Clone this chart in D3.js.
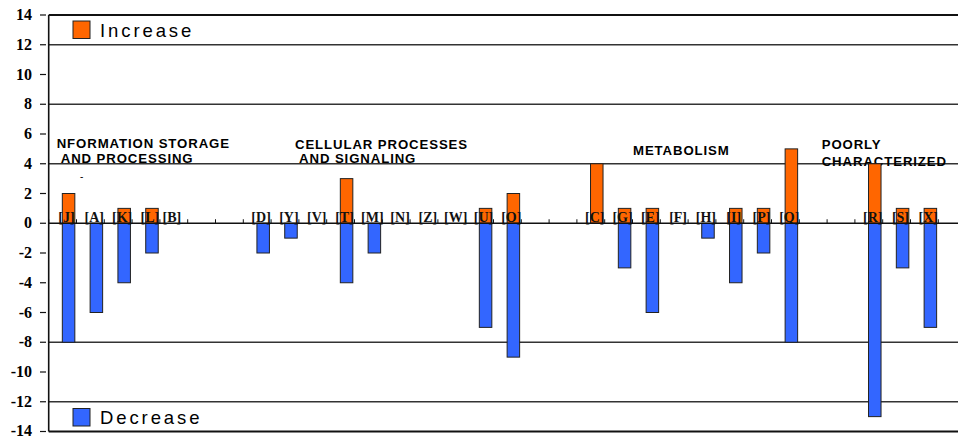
<!DOCTYPE html>
<html><head><meta charset="utf-8">
<script src="https://cdn.jsdelivr.net/npm/d3@7"></script>
<style>
body{margin:0;background:#fff;}
svg{display:block;}
</style></head>
<body>
<svg id="chart" width="958" height="437"></svg>
<script>
// ---- data ----
const categories = ["J","A","K","L","B","","","D","Y","V","T","M","N","Z","W","U","O","","","C","G","E","F","H","I","P","Q","","","R","S","X"];
const increaseValues = [2,0,1,1,0,null,null,0,0,0,3,0,0,0,0,1,2,null,null,4,1,1,0,0,1,1,5,null,null,4,1,1];
const decreaseValues = [-8,-6,-4,-2,0,null,null,-2,-1,0,-4,-2,0,0,0,-7,-9,null,null,0,-3,-6,0,-1,-4,-2,-8,null,null,-13,-3,-7];
const yTicks = [14,12,10,8,6,4,2,0,-2,-4,-6,-8,-10,-12,-14];
const gridValues = [12,8,4,-8,-12];
const groupLabels = [
  ["NFORMATION STORAGE"," AND PROCESSING"],
  ["CELLULAR PROCESSES"," AND SIGNALING"],
  ["METABOLISM"],
  ["POORLY","CHARACTERIZED"]
];
const seriesNames = ["Increase","Decrease"];
const seriesColors = ["#FF6600","#3366FF"];

// ---- layout ----
const svg = d3.select("#chart");
const serif = "'Liberation Serif','DejaVu Serif',serif";
const plotLeft = 48.7, slotW = 27.8, plotTop = 15, plotBottom = 431.5, plotRight = 958;
const x = d3.scaleBand().domain(d3.range(categories.length))
  .range([plotLeft, plotLeft + slotW*categories.length]).paddingInner(0).paddingOuter(0);
const y = d3.scaleLinear().domain([-14,14]).range([plotBottom, plotTop]);
const bw = x.bandwidth();
const color = d3.scaleOrdinal().domain(seriesNames).range(seriesColors);

// gridlines
svg.append("g").selectAll("line").data(gridValues).join("line")
  .attr("x1", plotLeft).attr("x2", plotRight)
  .attr("y1", d=>y(d)).attr("y2", d=>y(d))
  .attr("stroke","#333").attr("stroke-width",1.6);
// top/bottom frame
svg.append("g").selectAll("line").data([14,-14]).join("line")
  .attr("x1", plotLeft).attr("x2", plotRight)
  .attr("y1", d=>y(d)).attr("y2", d=>y(d))
  .attr("stroke","#111").attr("stroke-width",2);

// group labels (behind bars)
const gl = svg.append("g").attr("font-family","'Liberation Sans', Arial, sans-serif")
  .attr("font-weight","bold").attr("font-size","13.2px").attr("letter-spacing","0.9px").attr("fill","#000");
const groupStart = [56.7, 295, 633, 821.7];
const groupBase = [[148,163],[149,163],[155],[149,166]];
groupLabels.forEach((g,gi)=>{
  g.forEach((ln,li)=>{
    gl.append("text").attr("x", groupStart[gi]).attr("y", groupBase[gi][li])
      .style("white-space","pre").text(ln);
  });
});
svg.append("text").attr("x",80).attr("y",180).attr("font-family","'Liberation Sans', sans-serif")
  .attr("font-size","10px").text("-");

// y axis
const ya = svg.append("g");
ya.append("line").attr("x1",plotLeft).attr("x2",plotLeft).attr("y1",plotTop).attr("y2",plotBottom)
  .attr("stroke","#111").attr("stroke-width",1.6);
ya.selectAll("line.t").data(yTicks).join("line").attr("class","t")
  .attr("x1",40).attr("x2",46).attr("y1",d=>y(d)).attr("y2",d=>y(d))
  .attr("stroke","#111").attr("stroke-width",1.2);
ya.selectAll("text").data(yTicks).join("text")
  .attr("x",32).attr("y",d=>Math.min(y(d)+5, 435.5)).attr("text-anchor","end")
  .attr("font-family",serif).attr("font-weight","bold")
  .attr("font-size","16px").text(d=>d);

// bars
const barX = i => x(i) + bw*0.49;
const barW = bw*0.45;
function drawSeries(vals, name){
  const data = vals.map((v,i)=>({v,i})).filter(d=>d.v!==null && d.v!==0);
  svg.append("g").selectAll("rect").data(data).join("rect")
    .attr("x", d=>barX(d.i)).attr("width", barW)
    .attr("y", d=>y(Math.max(0,d.v))).attr("height", d=>Math.abs(y(d.v)-y(0)))
    .attr("fill", color(name)).attr("stroke","#222").attr("stroke-width",1);
}
drawSeries(decreaseValues,"Decrease");
drawSeries(increaseValues,"Increase");

// x axis (zero line)
svg.append("line").attr("x1",plotLeft).attr("x2",plotRight).attr("y1",y(0)).attr("y2",y(0))
  .attr("stroke","#111").attr("stroke-width",1.6);
svg.append("g").selectAll("line").data(d3.range(categories.length+1)).join("line")
  .attr("x1",i=>plotLeft+i*bw).attr("x2",i=>plotLeft+i*bw)
  .attr("y1",y(0)).attr("y2",y(0)-4).attr("stroke","#111").attr("stroke-width",1);

// category labels
svg.append("g").selectAll("text").data(categories.map((c,i)=>({c,i})).filter(d=>d.c!==""))
  .join("text")
  .attr("x", d=>x(d.i) + (d.c==="B" ? bw*0.43 : bw*0.64))
  .attr("y", y(0)-1.5).attr("text-anchor","middle")
  .attr("font-family",serif).attr("font-weight","bold")
  .attr("font-size","14px").attr("fill","#111").text(d=>"["+d.c+"]");

// legend
const lg = svg.append("g");
seriesNames.forEach((n,k)=>{
  const sy = k===0 ? 21 : 408.5;
  lg.append("rect").attr("x",73).attr("y",sy).attr("width",17).attr("height",17.5)
    .attr("fill",color(n)).attr("stroke","#222").attr("stroke-width",1);
  lg.append("text").attr("x",100).attr("y",sy+15.5)
    .attr("font-family","'Liberation Sans', Arial, sans-serif").attr("font-size","18.5px")
    .attr("letter-spacing","2.9px").attr("fill","#000").text(n);
});
</script>
</body></html>
